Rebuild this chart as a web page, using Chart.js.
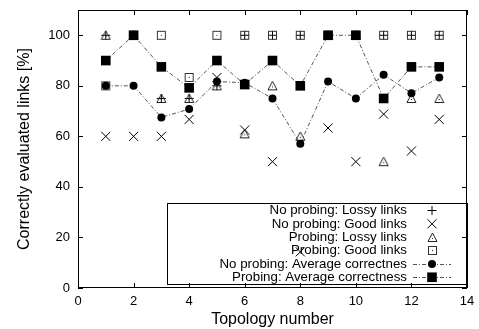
<!DOCTYPE html>
<html>
<head>
<meta charset="utf-8">
<script src="https://cdn.jsdelivr.net/npm/chart.js@4/dist/chart.umd.min.js"></script>
<style>
html,body{margin:0;padding:0;background:#fff;}
#wrap{width:479px;height:329px;}
</style>
</head>
<body>
<div id="wrap"><canvas id="c" width="479" height="329"></canvas></div>
<script>
const topologies = [1,2,3,4,5,6,7,8,9,10,11,12,13];
const noProbLossy = [100,100,75,75,80,100,100,100,100,100,100,100,100];
const noProbGood  = [60,60,60,66.7,83.3,62.5,50,14.3,63.3,50,68.8,54.2,66.7];
const probLossy   = [100,100,75,75,80,61,80,60,100,100,50,75,75];
const probGood    = [80,100,100,83.3,100,100,100,100,100,100,100,100,100];
const noProbAvg   = [80,80,67.5,70.8,81.7,81.2,75,57.1,81.7,75,84.4,77.1,83.3];
const probAvg     = [90,100,87.5,79.2,90,80.5,90,80,100,100,75,87.5,87.5];
const labels = ["No probing: Lossy links","No probing: Good links","Probing: Lossy links","Probing: Good links","No probing: Average correctnes","Probing: Average correctness"];
const xTicks = [0,2,4,6,8,10,12,14];
const yTicks = [0,20,40,60,80,100];

function mk(w,h,fn){const c=document.createElement('canvas');c.width=w;c.height=h;const g=c.getContext('2d');fn(g);return c;}
const squareDot = mk(11,11,g=>{g.strokeStyle='#333';g.lineWidth=1;g.strokeRect(1.5,1.5,8,8);g.fillStyle='#222';g.fillRect(5,5,1,1);});
const triDot = mk(11,11,g=>{g.strokeStyle='#222';g.lineWidth=1;g.beginPath();g.moveTo(5.5,1);g.lineTo(10,9.5);g.lineTo(1,9.5);g.closePath();g.stroke();g.fillStyle='#222';g.fillRect(5,6,1,1);});

function pts(arr){return arr.map((v,i)=>({x:topologies[i],y:v}));}

const datasets = [
  {label:labels[0],data:pts(noProbLossy),showLine:false,pointStyle:'cross',pointRadius:4.5,borderColor:'#000',backgroundColor:'#000',pointBorderWidth:1,order:5},
  {label:labels[1],data:pts(noProbGood),showLine:false,pointStyle:'crossRot',pointRadius:6.4,borderColor:'#000',backgroundColor:'#000',pointBorderWidth:1,order:4},
  {label:labels[2],data:pts(probLossy),showLine:false,pointStyle:triDot,pointRadius:5,order:3},
  {label:labels[3],data:pts(probGood),showLine:false,pointStyle:squareDot,pointRadius:5,order:2},
  {label:labels[4],data:pts(noProbAvg),showLine:true,borderColor:'#555',borderWidth:1,borderDash:[4,2,1,2],pointStyle:'circle',pointRadius:4,pointBackgroundColor:'#000',pointBorderColor:'#000',pointBorderWidth:0,order:1},
  {label:labels[5],data:pts(probAvg),showLine:true,borderColor:'#555',borderWidth:1,borderDash:[4,2,1,2],pointStyle:'rect',pointRadius:6.8,pointBackgroundColor:'#000',pointBorderColor:'#000',pointBorderWidth:0,order:0}
];

function drawMarker(ctx, ds, x, y){
  const st = ds.pointStyle;
  if (st instanceof HTMLCanvasElement){ctx.drawImage(st, Math.round(x - st.width/2), Math.round(y - st.height/2)); return;}
  const r = ds.pointRadius;
  ctx.save();
  ctx.strokeStyle='#000'; ctx.fillStyle='#000'; ctx.lineWidth=1;
  ctx.beginPath();
  if (st==='cross'){ctx.moveTo(x-r,y);ctx.lineTo(x+r,y);ctx.moveTo(x,y-r);ctx.lineTo(x,y+r);ctx.stroke();}
  else if (st==='crossRot'){const o=r*Math.SQRT1_2;ctx.moveTo(x-o,y-o);ctx.lineTo(x+o,y+o);ctx.moveTo(x+o,y-o);ctx.lineTo(x-o,y+o);ctx.stroke();}
  else if (st==='circle'){ctx.arc(x,y,r,0,Math.PI*2);ctx.fill();}
  else if (st==='rect'){const s=r*Math.SQRT1_2;ctx.fillRect(x-s,y-s,2*s,2*s);}
  ctx.restore();
}

const framePlugin = {
  id:'frame',
  beforeDatasetsDraw(chart){
    const ctx = chart.ctx, a = chart.chartArea;
    const xs = chart.scales.x, ys = chart.scales.y;
    ctx.save();
    // legend box
    const bl = a.left + 89, br = a.right - 0.5, bt = a.top + 193, bb = a.bottom - 4;
    ctx.strokeStyle='#000'; ctx.lineWidth=1;
    ctx.strokeRect(Math.round(bl)+0.5, Math.round(bt)+0.5, Math.round(br-bl), Math.round(bb-bt));
    ctx.font = '13.3px "Liberation Sans", Arial, sans-serif';
    ctx.textAlign='right'; ctx.textBaseline='middle'; ctx.fillStyle='#000';
    const tx = a.right - 60, mx = a.right - 35;
    chart.data.datasets.forEach((ds,i)=>{
      const yy = bt + 7.5 + i*13.35;
      ctx.fillStyle='#000';
      ctx.fillText(ds.label, tx, yy);
      if (ds.showLine){
        ctx.save();
        ctx.strokeStyle=ds.borderColor; ctx.lineWidth=1; ctx.setLineDash(ds.borderDash);
        ctx.beginPath(); ctx.moveTo(a.right-54, Math.round(yy)+0.5); ctx.lineTo(a.right-16, Math.round(yy)+0.5); ctx.stroke();
        ctx.restore();
      }
      drawMarker(ctx, ds, mx, yy);
    });
    // frame
    ctx.strokeStyle='#000'; ctx.lineWidth=1; ctx.setLineDash([]);
    ctx.strokeRect(Math.round(a.left)+0.5, Math.round(a.top)+0.5, Math.round(a.right-a.left)-1, Math.round(a.bottom-a.top)-1);
    ctx.beginPath();
    const tl = 5;
    xTicks.forEach(v=>{
      const px = Math.round(xs.getPixelForValue(v))+0.5;
      ctx.moveTo(px, a.bottom); ctx.lineTo(px, a.bottom - tl);
      ctx.moveTo(px, a.top); ctx.lineTo(px, a.top + tl);
    });
    yTicks.forEach(v=>{
      const py = Math.round(ys.getPixelForValue(v))+0.5;
      ctx.moveTo(a.left, py); ctx.lineTo(a.left + tl, py);
      ctx.moveTo(a.right, py); ctx.lineTo(a.right - tl, py);
    });
    ctx.stroke();
    ctx.restore();
  }
};

const tickFont = {family:'"Liberation Sans", Arial, sans-serif', size:13};
const titleFont = {family:'"Liberation Sans", Arial, sans-serif', size:16};

new Chart(document.getElementById('c'), {
  type:'scatter',
  data:{datasets},
  options:{
    responsive:false, animation:false, devicePixelRatio:1,
    layout:{padding:{top:10,right:12,left:0,bottom:0}},
    plugins:{legend:{display:false},tooltip:{enabled:false}},
    scales:{
      x:{type:'linear',min:0,max:14,
        afterBuildTicks(s){s.ticks = xTicks.map(v=>({value:v}));},
        ticks:{font:tickFont,color:'#000',padding:6,autoSkip:false,maxRotation:0},
        grid:{display:false,drawTicks:false}, border:{display:false},
        title:{display:true,text:'Topology number',font:titleFont,color:'#000',padding:{top:0,bottom:0}},
        afterFit(s){s.height = 41; s.paddingLeft = 0; s.paddingRight = 0;}
      },
      y:{type:'linear',min:0,max:110,
        afterBuildTicks(s){s.ticks = yTicks.map(v=>({value:v}));},
        ticks:{font:tickFont,color:'#000',padding:8},
        grid:{display:false,drawTicks:false}, border:{display:false},
        title:{display:true,text:'Correctly evaluated links [%]',font:titleFont,color:'#000',padding:{top:15,bottom:0}},
        afterFit(s){s.width = 78; s.paddingTop = 0; s.paddingBottom = 0;}
      }
    }
  },
  plugins:[framePlugin]
});
</script>
</body>
</html>
